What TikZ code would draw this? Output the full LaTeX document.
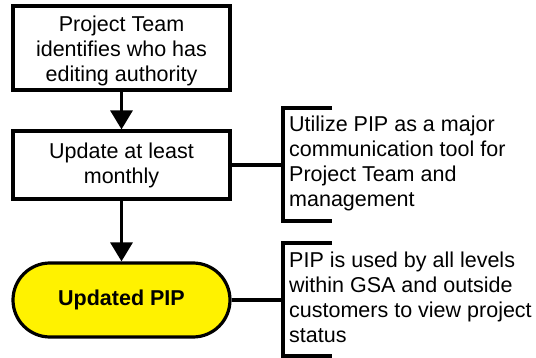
\documentclass[tikz,border=0pt]{standalone}
\usepackage{fontspec}
\setmainfont{Liberation Sans}
\usetikzlibrary{arrows.meta}
\begin{document}
\begin{tikzpicture}[x=1pt,y=-1pt,
  every node/.style={font=\fontsize{21.5}{25}\selectfont},
  procbox/.style={draw, line width=3.2pt, minimum width=217pt, align=center, inner sep=0pt},
  boxtext/.style={align=center, inner sep=0pt},
  term/.style={draw, line width=3.2pt, fill=yellow, rounded corners=37pt, minimum width=217pt, minimum height=74pt, font=\fontsize{21.5}{25}\selectfont\bfseries},
  flow/.style={line width=3.2pt, -{Triangle[width=22pt,length=19pt]}},
  link/.style={line width=3.2pt},
  note/.style={align=left, anchor=north west, inner sep=0pt}]
\useasboundingbox (0,0) rectangle (536,358);
\node[procbox, minimum height=84pt] (a) at (121.5,48) {};
\node[boxtext] (at) at (121.5,51) {Project Team\\identifies who has\\editing authority};
\node[procbox, minimum height=68pt] (b) at (121.5,165) {Update at least\\monthly};
\node[term] (c) at (121.5,300) {Updated PIP};
\draw[flow] (a) -- (b);
\draw[flow] (b) -- (c);
% bracket 1
\coordinate (b1) at (283,165);
\draw[link] (332,108) -- (283,108) -- (283,221) -- (332,221);
\draw[link] (b) -- (b1);
\node[note] (n1) at (289,115.5) {Utilize PIP as a major\\communication tool for\\Project Team and\\management};
% bracket 2
\coordinate (b2) at (283,300);
\draw[link] (332,243) -- (283,243) -- (283,356) -- (332,356);
\draw[link] (c) -- (b2);
\node[note] (n2) at (289,252) {PIP is used by all levels\\within GSA and outside\\customers to view project\\status};
\end{tikzpicture}
\end{document}
